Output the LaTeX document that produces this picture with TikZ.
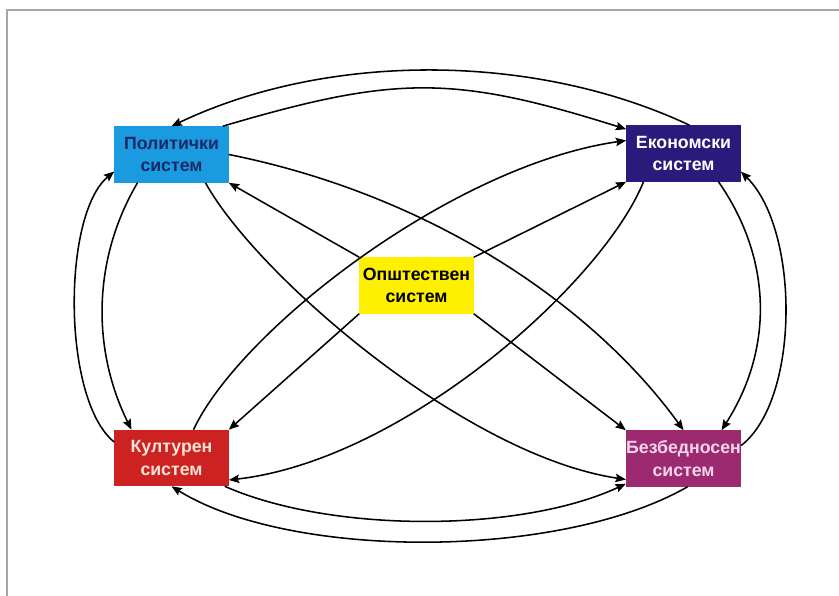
\documentclass[tikz,border=0pt]{standalone}
\usepackage{fontspec}
\setmainfont{Liberation Sans}
\usetikzlibrary{arrows.meta,calc}
\definecolor{polblue}{HTML}{1A9BE0}
\definecolor{poltext}{HTML}{1B2868}
\definecolor{ekonavy}{HTML}{2A1A7C}
\definecolor{opsyellow}{HTML}{FFF000}
\definecolor{kulred}{HTML}{CC2222}
\definecolor{kultext}{HTML}{FBE4D6}
\definecolor{bezpurple}{HTML}{9C2A70}
\definecolor{beztext}{HTML}{F4D6EA}

\begin{document}
\begin{tikzpicture}[x=0.025cm,y=-0.025cm,
  sys/.style={rectangle,inner sep=0pt,minimum width=2.85cm,minimum height=1.4cm,
    align=center,font=\fontsize{12.6}{16}\selectfont\bfseries},
  link/.style={line width=1.1pt,-{Stealth[length=2.6mm,width=2.1mm,inset=0.4mm]}}]
  \useasboundingbox (0,0) rectangle (839,596);
  % frame
  \draw[gray!70,line width=1.2pt] (7,596)--(7,10)--(839,10);
  % systems
  \node[sys,fill=polblue,text=poltext] (pol) at (171.5,154.5) {Политички\\систем};
  \node[sys,fill=ekonavy,text=white] (eko) at (683.5,153.5) {Економски\\систем};
  \node[sys,fill=opsyellow,text=black] (ops) at (416.5,285.5) {Општествен\\систем};
  \node[sys,fill=kulred,text=kultext] (kul) at (171.5,458) {Културен\\систем};
  \node[sys,fill=bezpurple,text=beztext] (bez) at (683.5,458.5) {Безбедносен\\систем};
  % from the centre
  \draw[link] (ops.north west) -- (pol.south east);
  \draw[link] (ops.north east) -- (eko.south west);
  \draw[link] (ops.south west) -- (kul.north east);
  \draw[link] (ops.south east) -- (bez.north west);
  % top arcs
  \draw[link] ($(eko.north)+(6,0)$) .. controls (534,52) and (327,52) .. (pol.north);
  \draw[link] ($(pol.north east)+(-6,0)$) .. controls (396,75) and (454,75) .. ($(eko.north west)+(0,4)$);
  % left arcs
  \draw[link] ($(pol.south)+(-34,0)$) .. controls (92,260) and (92,350) .. ($(kul.north)+(-40,0)$);
  \draw[link] ($(kul.west)+(0,-16)$) .. controls (62,400) and (62,215) .. ($(pol.west)+(0,17)$);
  % right arcs
  \draw[link] ($(eko.south)+(35,0)$) .. controls (773,260) and (773,350) .. ($(bez.north)+(38,0)$);
  \draw[link] ($(bez.east)+(0,-13)$) .. controls (800,400) and (800,230) .. ($(eko.east)+(0,18)$);
  % bottom arcs
  \draw[link] ($(kul.south east)+(-4,0)$) .. controls (330,533) and (520,533) .. ($(bez.south west)+(0,-3)$);
  \draw[link] ($(bez.south)+(4,0)$) .. controls (560,560) and (290,560) .. (kul.south);
  % crossing curves
  \draw[link] (pol.east) .. controls (431,195) and (593,305) .. (bez.north);
  \draw[link] ($(pol.south)+(34,0)$) .. controls (255,273) and (463,455) .. ($(bez.west)+(0,21)$);
  \draw[link] ($(kul.north)+(22,0)$) .. controls (240,330) and (453,165) .. ($(eko.west)+(0,-13)$);
  \draw[link] ($(eko.south)+(-40,0)$) .. controls (603,282) and (405,460) .. ($(kul.east)+(0,22)$);
\end{tikzpicture}
\end{document}
